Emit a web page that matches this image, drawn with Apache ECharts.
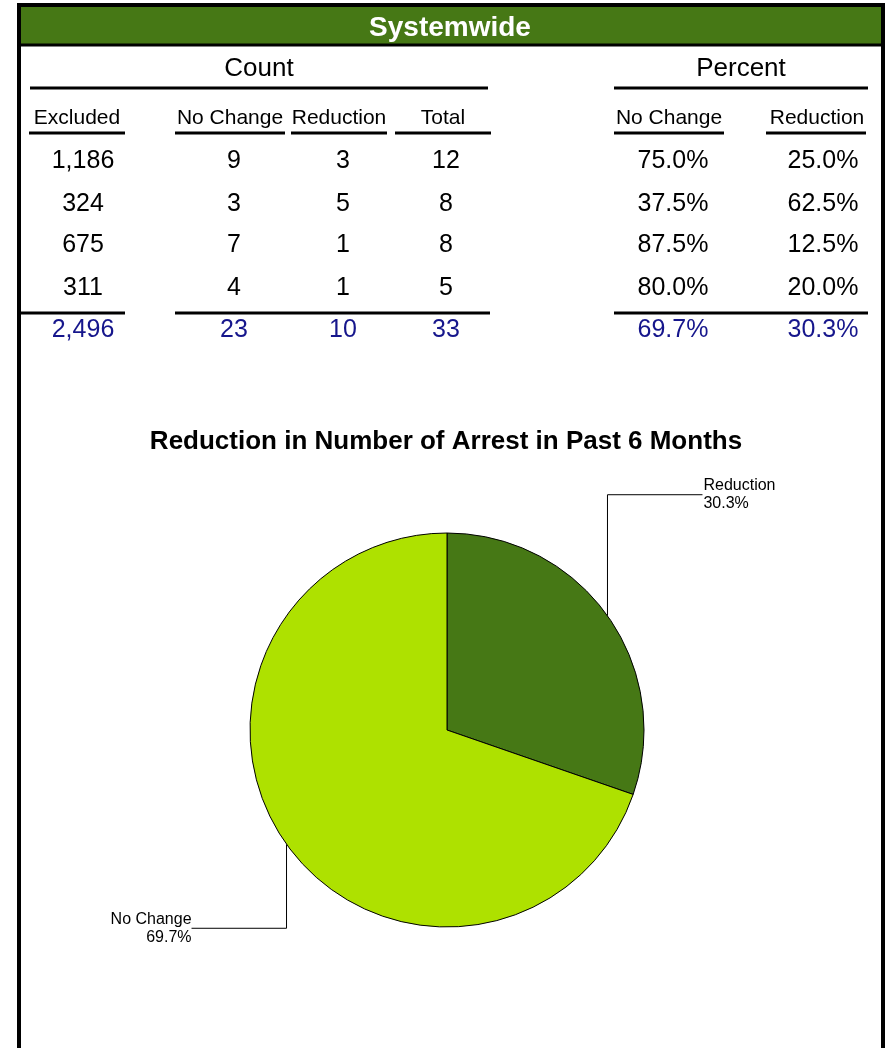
<!DOCTYPE html>
<html>
<head>
<meta charset="utf-8">
<script src="https://cdn.jsdelivr.net/npm/echarts@6/dist/echarts.min.js"></script>
<style>
html,body{margin:0;padding:0;background:#fff;}
#chart{width:892px;height:1048px;}
</style>
</head>
<body>
<div id="chart"></div>
<script>
// ---- data ----
var rowExcluded = [1186, 324, 675, 311];
var rowNoChange = [9, 3, 7, 4];
var rowReduction = [3, 5, 1, 1];
var rowTotal = [12, 8, 8, 5];
var rowPctNoChange = [75.0, 37.5, 87.5, 80.0];
var rowPctReduction = [25.0, 62.5, 12.5, 20.0];
var sumCounts = [2496, 23, 10, 33];
var sumPcts = [69.7, 30.3];
var countHeaders = ['Excluded', 'No Change', 'Reduction', 'Total'];
var pctHeaders = ['No Change', 'Reduction'];
var pieCategories = ['Reduction', 'No Change'];
var pieValues = [10, 23];

var FONT = '"Liberation Sans", Arial, sans-serif';
var DARK = '#467815';
var LIGHT = '#aee100';
var NAVY = '#16168c';

function fmtInt(v) { return v.toLocaleString('en-US'); }
function fmtPct(v) { return v.toFixed(1) + '%'; }

var graphics = [];
function txt(x, y, s, size, opts) {
  opts = opts || {};
  graphics.push({
    type: 'text', x: x, y: y + 2, z: 10,
    style: {
      text: s, fill: opts.fill || '#000',
      font: (opts.bold ? 'bold ' : '') + size + 'px ' + FONT,
      align: opts.align || 'center', verticalAlign: 'middle'
    }
  });
}
function hline(x1, x2, y, w) {
  graphics.push({ type: 'line', z: 10, shape: { x1: x1, y1: y, x2: x2, y2: y }, style: { stroke: '#000', lineWidth: w || 3 } });
}

// header bar & frame
graphics.push({ type: 'rect', z: 5, shape: { x: 19, y: 5, width: 864, height: 40 }, style: { fill: DARK } });
graphics.push({ type: 'line', z: 6, shape: { x1: 19, y1: 45, x2: 883, y2: 45 }, style: { stroke: '#000', lineWidth: 3 } });
graphics.push({ type: 'rect', z: 6, shape: { x: 19, y: 5, width: 864, height: 1100 }, style: { fill: 'none', stroke: '#000', lineWidth: 4 } });
txt(450, 26, 'Systemwide', 28, { bold: true, fill: '#fff' });

// group titles
txt(259, 67, 'Count', 26);
txt(741, 67, 'Percent', 26);
hline(30, 488, 88);
hline(614, 868, 88);

// column headers
var countHeadX = [77, 230, 339, 443];
var countLineX = [[29, 125], [175, 285], [291, 387], [395, 491]];
var pctHeadX = [669, 817];
var pctLineX = [[614, 724], [766, 866]];
for (var i = 0; i < countHeaders.length; i++) {
  txt(countHeadX[i], 116, countHeaders[i], 21);
  hline(countLineX[i][0], countLineX[i][1], 133);
}
for (var i = 0; i < pctHeaders.length; i++) {
  txt(pctHeadX[i], 116, pctHeaders[i], 21);
  hline(pctLineX[i][0], pctLineX[i][1], 133);
}

// data rows
var rowY = [159, 202, 243, 286];
var countColX = [83, 234, 343, 446];
var pctColX = [673, 823];
var countCols = [rowExcluded, rowNoChange, rowReduction, rowTotal];
var pctCols = [rowPctNoChange, rowPctReduction];
for (var r = 0; r < rowY.length; r++) {
  for (var c = 0; c < countCols.length; c++) txt(countColX[c], rowY[r], fmtInt(countCols[c][r]), 25);
  for (var c = 0; c < pctCols.length; c++) txt(pctColX[c], rowY[r], fmtPct(pctCols[c][r]), 25);
}
// totals
hline(21, 125, 313);
hline(175, 490, 313);
hline(614, 868, 313);
for (var c = 0; c < sumCounts.length; c++) txt(countColX[c], 328, fmtInt(sumCounts[c]), 25, { fill: NAVY });
for (var c = 0; c < sumPcts.length; c++) txt(pctColX[c], 328, fmtPct(sumPcts[c]), 25, { fill: NAVY });

var chart = echarts.init(document.getElementById('chart'), null, { renderer: 'canvas' });
chart.setOption({
  backgroundColor: '#fff',
  animation: false,
  title: {
    text: 'Reduction in Number of Arrest in Past 6 Months',
    left: 'center', top: 424,
    textStyle: { fontFamily: FONT, fontSize: 26, fontWeight: 'bold', color: '#000' }
  },
  graphic: graphics,
  series: [{
    type: 'pie',
    center: [447, 730],
    radius: 197,
    startAngle: 90,
    clockwise: true,
    silent: true,
    data: pieCategories.map(function (n, i) { return { name: n, value: pieValues[i] }; }),
    color: [DARK, LIGHT],
    itemStyle: { borderColor: '#000', borderWidth: 1 },
    label: {
      show: true,
      position: 'outside',
      fontFamily: FONT, fontSize: 16, color: '#000', lineHeight: 18,
      formatter: function (p) { return p.name + '\n' + p.percent.toFixed(1) + '%'; }
    },
    labelLine: { show: true, length: 20, length2: 20, lineStyle: { color: '#000', width: 1 } },
    labelLayout: function (p) {
      var pts = p.labelLinePoints;
      if (!pts) return {};
      var e = pts[0];
      var right = pts[pts.length - 1][0] > e[0];
      var x, y;
      if (right) {
        x = e[0] + 95; y = e[1] - 121;
        return { x: x + 1, y: y, align: 'left', verticalAlign: 'middle',
                 labelLinePoints: [[e[0], e[1]], [e[0], y], [x, y]] };
      } else {
        x = e[0] - 95; y = e[1] + 84;
        return { x: x, y: y, align: 'right', verticalAlign: 'middle',
                 labelLinePoints: [[e[0], e[1]], [e[0], y], [x, y]] };
      }
    }
  }]
});
</script>
</body>
</html>
